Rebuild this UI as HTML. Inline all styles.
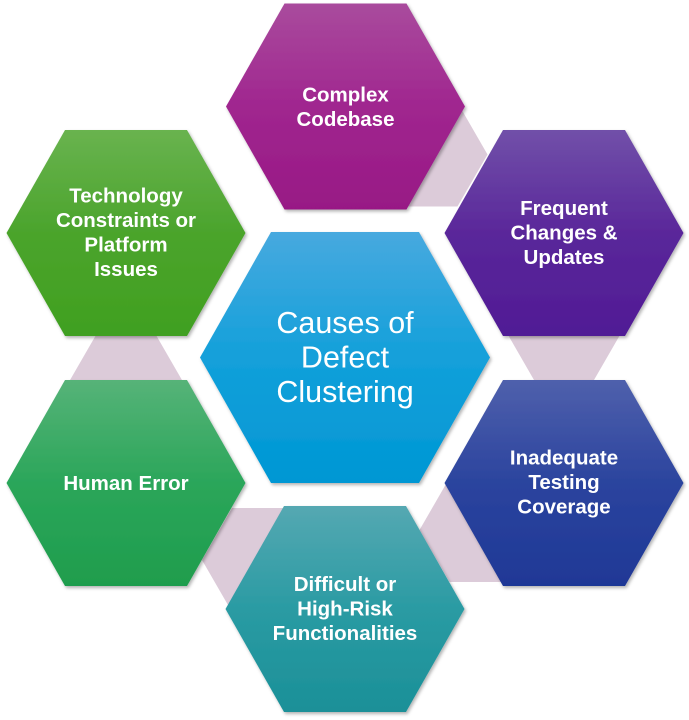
<!DOCTYPE html>
<html>
<head>
<meta charset="utf-8">
<style>
  html,body{margin:0;padding:0;background:#ffffff;}
  svg{display:block;}
  .lbl{font-family:"Liberation Sans",sans-serif;font-weight:bold;font-size:20.5px;fill:#ffffff;}
  .ctr{font-family:"Liberation Sans",sans-serif;font-weight:normal;font-size:30.5px;fill:#ffffff;}
</style>
</head>
<body>
<svg width="689" height="720" viewBox="0 0 689 720" xmlns="http://www.w3.org/2000/svg">
  <defs>
    <filter id="sh" x="-10%" y="-10%" width="125%" height="125%">
      <feDropShadow dx="1.5" dy="2" stdDeviation="1.5" flood-color="#000" flood-opacity="0.3"/>
    </filter>
    <linearGradient id="gC" x1="0" y1="0" x2="0" y2="1">
      <stop offset="0" stop-color="#a94b9d"/><stop offset="0.5" stop-color="#a0268f"/><stop offset="1" stop-color="#981985"/>
    </linearGradient>
    <linearGradient id="gT" x1="0" y1="0" x2="0" y2="1">
      <stop offset="0" stop-color="#69b34f"/><stop offset="0.5" stop-color="#4ba42c"/><stop offset="1" stop-color="#40a020"/>
    </linearGradient>
    <linearGradient id="gF" x1="0" y1="0" x2="0" y2="1">
      <stop offset="0" stop-color="#7150a9"/><stop offset="0.5" stop-color="#5a279a"/><stop offset="1" stop-color="#501b95"/>
    </linearGradient>
    <linearGradient id="gI" x1="0" y1="0" x2="0" y2="1">
      <stop offset="0" stop-color="#4f60ac"/><stop offset="0.5" stop-color="#2b449e"/><stop offset="1" stop-color="#1f3896"/>
    </linearGradient>
    <linearGradient id="gH" x1="0" y1="0" x2="0" y2="1">
      <stop offset="0" stop-color="#56b378"/><stop offset="0.5" stop-color="#2ba65a"/><stop offset="1" stop-color="#1f9d4d"/>
    </linearGradient>
    <linearGradient id="gD" x1="0" y1="0" x2="0" y2="1">
      <stop offset="0" stop-color="#55a8b2"/><stop offset="0.5" stop-color="#2a9ba3"/><stop offset="1" stop-color="#1b9098"/>
    </linearGradient>
    <linearGradient id="gM" x1="0" y1="0" x2="0" y2="1">
      <stop offset="0" stop-color="#47a9df"/><stop offset="0.5" stop-color="#13a0da"/><stop offset="1" stop-color="#0097d4"/>
    </linearGradient>
  </defs>

  <!-- pale connector hexagons -->
  <g fill="#dccbd9">
    <polygon points="367.5,154.5 397.5,102.5 457.5,102.5 487.5,154.5 457.5,206.5 397.5,206.5"/>
    <polygon points="504,328 534,276 594,276 624,328 594,380 534,380"/>
    <polygon points="419.5,530 449.5,478 509.5,478 539.5,530 509.5,582 449.5,582"/>
    <polygon points="202,560 232,508 292,508 322,560 292,612 232,612"/>
    <polygon points="66,387 96,335 156,335 186,387 156,439 96,439"/>
  </g>

  <!-- outer hexagons -->
  <g filter="url(#sh)">
    <polygon fill="url(#gC)" points="226,106.5 284.5,3.5 406.5,3.5 465,106.5 406.5,209.5 284.5,209.5"/>
    <polygon fill="url(#gF)" points="444.5,233 503,130 625,130 683.5,233 625,336 503,336"/>
    <polygon fill="url(#gI)" points="444.5,483 503,380 625,380 683.5,483 625,586 503,586"/>
    <polygon fill="url(#gD)" points="225.5,609 284,506 406,506 464.5,609 406,712 284,712"/>
    <polygon fill="url(#gH)" points="6.5,483 65,380 187,380 245.5,483 187,586 65,586"/>
    <polygon fill="url(#gT)" points="6.5,233 65,130 187,130 245.5,233 187,336 65,336"/>
    <polygon fill="url(#gM)" points="200,357.5 271,232 419,232 490,357.5 419,483 271,483"/>
  </g>

  <!-- labels -->
  <g class="lbl" text-anchor="middle">
    <text x="345.5" y="101.5">Complex</text>
    <text x="345.5" y="126">Codebase</text>

    <text x="564" y="215">Frequent</text>
    <text x="564" y="239.5">Changes &amp;</text>
    <text x="564" y="264">Updates</text>

    <text x="564" y="464.5">Inadequate</text>
    <text x="564" y="489">Testing</text>
    <text x="564" y="513.5">Coverage</text>

    <text x="345" y="591">Difficult or</text>
    <text x="345" y="615.5">High-Risk</text>
    <text x="345" y="640">Functionalities</text>

    <text x="126" y="490">Human Error</text>

    <text x="126" y="202.5">Technology</text>
    <text x="126" y="227">Constraints or</text>
    <text x="126" y="251.5">Platform</text>
    <text x="126" y="276">Issues</text>
  </g>

  <g class="ctr" text-anchor="middle">
    <text x="345" y="333">Causes of</text>
    <text x="345" y="367.5">Defect</text>
    <text x="345" y="402">Clustering</text>
  </g>
</svg>
</body>
</html>
